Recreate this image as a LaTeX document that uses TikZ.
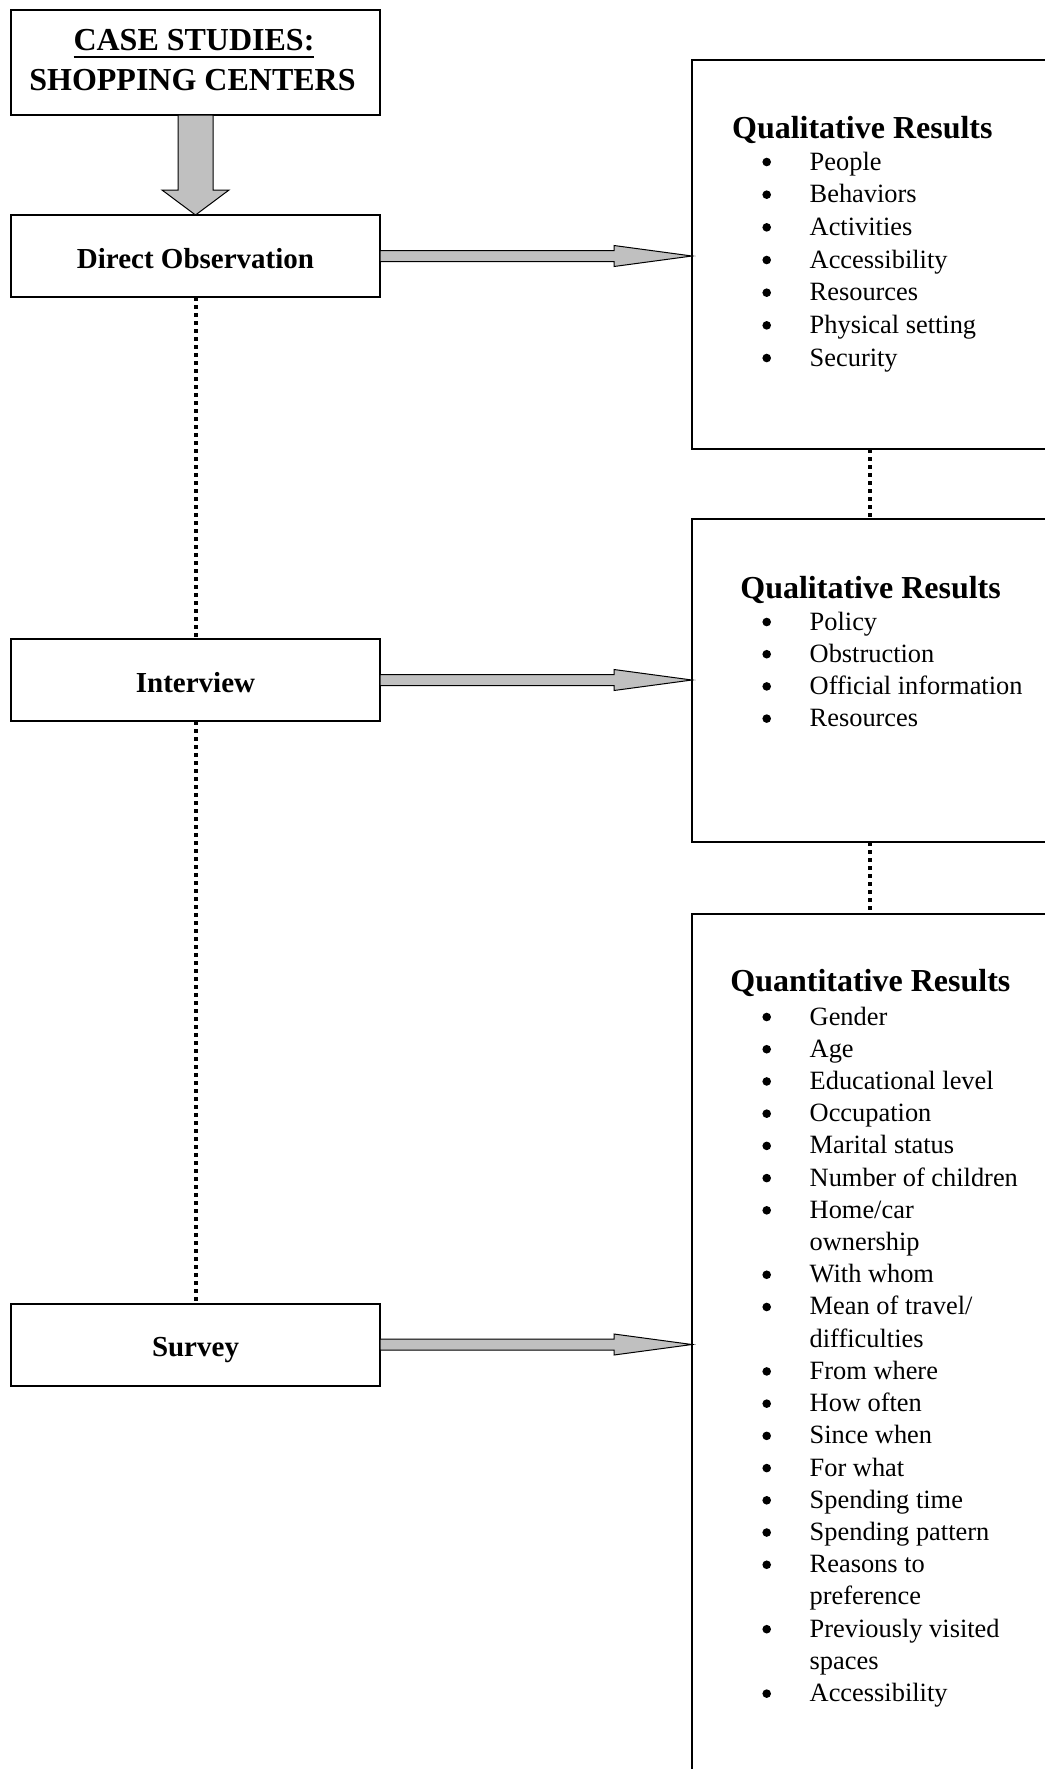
\documentclass[tikz,border=0pt]{standalone}
\usepackage{fontspec}
\setmainfont{Liberation Serif}
\usetikzlibrary{calc}
\definecolor{arrgray}{RGB}{192,192,192}
\newcommand\myul[1]{\setbox0\hbox{#1}\rlap{\rule[-3.85pt]{\wd0}{1pt}}\box0}
\tikzset{
  lbox/.style={draw, line width=1pt, inner sep=0pt, outer sep=0pt, minimum width=184.5pt, minimum height=41pt, font=\fontsize{14.5}{17}\selectfont\bfseries, text height=13pt, text depth=1pt},
  ttl/.style={anchor=base, inner sep=0pt, font=\fontsize{16}{19}\selectfont\bfseries},
  rbox/.style={draw, line width=1pt, inner sep=0pt, outer sep=0pt, minimum width=178pt, anchor=north west},
  head/.style={anchor=base west, inner sep=0pt, font=\fontsize{16}{19}\selectfont\bfseries},
  itm/.style={anchor=base west, inner sep=0pt, font=\fontsize{13.2}{16}\selectfont},
  bul/.style={circle, fill=black, inner sep=0pt, minimum size=4.3pt},
  arr/.style={draw=black, line width=0.5pt, fill=arrgray, line join=miter},
  dotline/.style={line width=2pt, dash pattern=on 2pt off 2pt}
}
\newcommand\harrow[2]{%
  \path (#1.east) coordinate (hs) (#2.west |- #1.east) coordinate (ht);
  \draw[arr] ($(hs)+(0,-5.5)$) -- ($(ht)+(-78,-5.5)$) -- ($(ht)+(-78,-10.5)$) -- (ht)
    -- ($(ht)+(-78,10.5)$) -- ($(ht)+(-78,5.5)$) -- ($(hs)+(0,5.5)$) -- cycle;}
\begin{document}
\begin{tikzpicture}[x=0.5pt,y=-0.5pt]
\useasboundingbox (0,0) rectangle (1045,1769);
\clip (0,0) rectangle (1045,1769);
% left column
\node[lbox, minimum height=52.5pt, text height=0pt, text depth=0pt] (title) at (195.5,62.5) {};
\node[ttl] (t1) at (194,50) {\myul{CASE STUDIES:}};
\node[ttl] (t2) at (192.5,90) {SHOPPING CENTERS};
\node[lbox] (do) at (195.5,256) {Direct Observation};
\node[lbox] (iv) at (195.5,680) {Interview};
\node[lbox] (sv) at (195.5,1344.5) {Survey};
% right boxes
\node[rbox, minimum height=194.5pt] (r1) at (692,60) {};
\node[rbox, minimum height=161.5pt] (r2) at (692,519) {};
\node[rbox, minimum height=450pt] (r3) at (692,914) {};
% headings
\node[head] (h1) at (731.7,138) {Qualitative Results};
\node[head] (h2) at (740,598.3) {Qualitative Results};
\node[head] (h3) at (730,991.7) {Quantitative Results};
% lists
\foreach \t [count=\i] in {People,Behaviors,Activities,Accessibility,Resources,Physical setting,Security} {
  \node[bul] (ab\i) at (766.7,{170+32.67*(\i-1)-8}) {};
  \node[itm] (a\i) at (809.3,{170+32.67*(\i-1)}) {\t};
}
\foreach \t [count=\i] in {Policy,Obstruction,Official information,Resources} {
  \node[bul] (bb\i) at (766.7,{630+32.2*(\i-1)-8}) {};
  \node[itm] (b\i) at (809.3,{630+32.2*(\i-1)}) {\t};
}
\foreach \b/\t [count=\i] in {1/Gender,1/Age,1/Educational level,1/Occupation,1/Marital status,1/Number of children,1/{Home/car},0/ownership,1/With whom,1/{Mean of travel/},0/difficulties,1/From where,1/How often,1/Since when,1/For what,1/Spending time,1/Spending pattern,1/Reasons to,0/preference,1/Previously visited,0/spaces,1/Accessibility} {
  \ifnum\b=1 \node[bul] (cb\i) at (766.7,{1025+32.22*(\i-1)-8}) {};\fi
  \node[itm] (c\i) at (809.3,{1025+32.22*(\i-1)}) {\t};
}
% big down arrow
\draw[arr] ($(title.south)+(-17.5,0)$) -- ($(do.north)+(-17.5,-25)$) -- ($(do.north)+(-33.5,-25)$) -- (do.north)
  -- ($(do.north)+(33.5,-25)$) -- ($(do.north)+(17.5,-25)$) -- ($(title.south)+(17.5,0)$) -- cycle;
% horizontal arrows
\harrow{do}{r1}
\harrow{iv}{r2}
\harrow{sv}{r3}
% dotted links
\draw[dotline] (do.south) -- (iv.north);
\draw[dotline] (iv.south) -- (sv.north);
\draw[dotline] (r1.south) -- (r2.north);
\draw[dotline] (r2.south) -- (r3.north);
\end{tikzpicture}
\end{document}
